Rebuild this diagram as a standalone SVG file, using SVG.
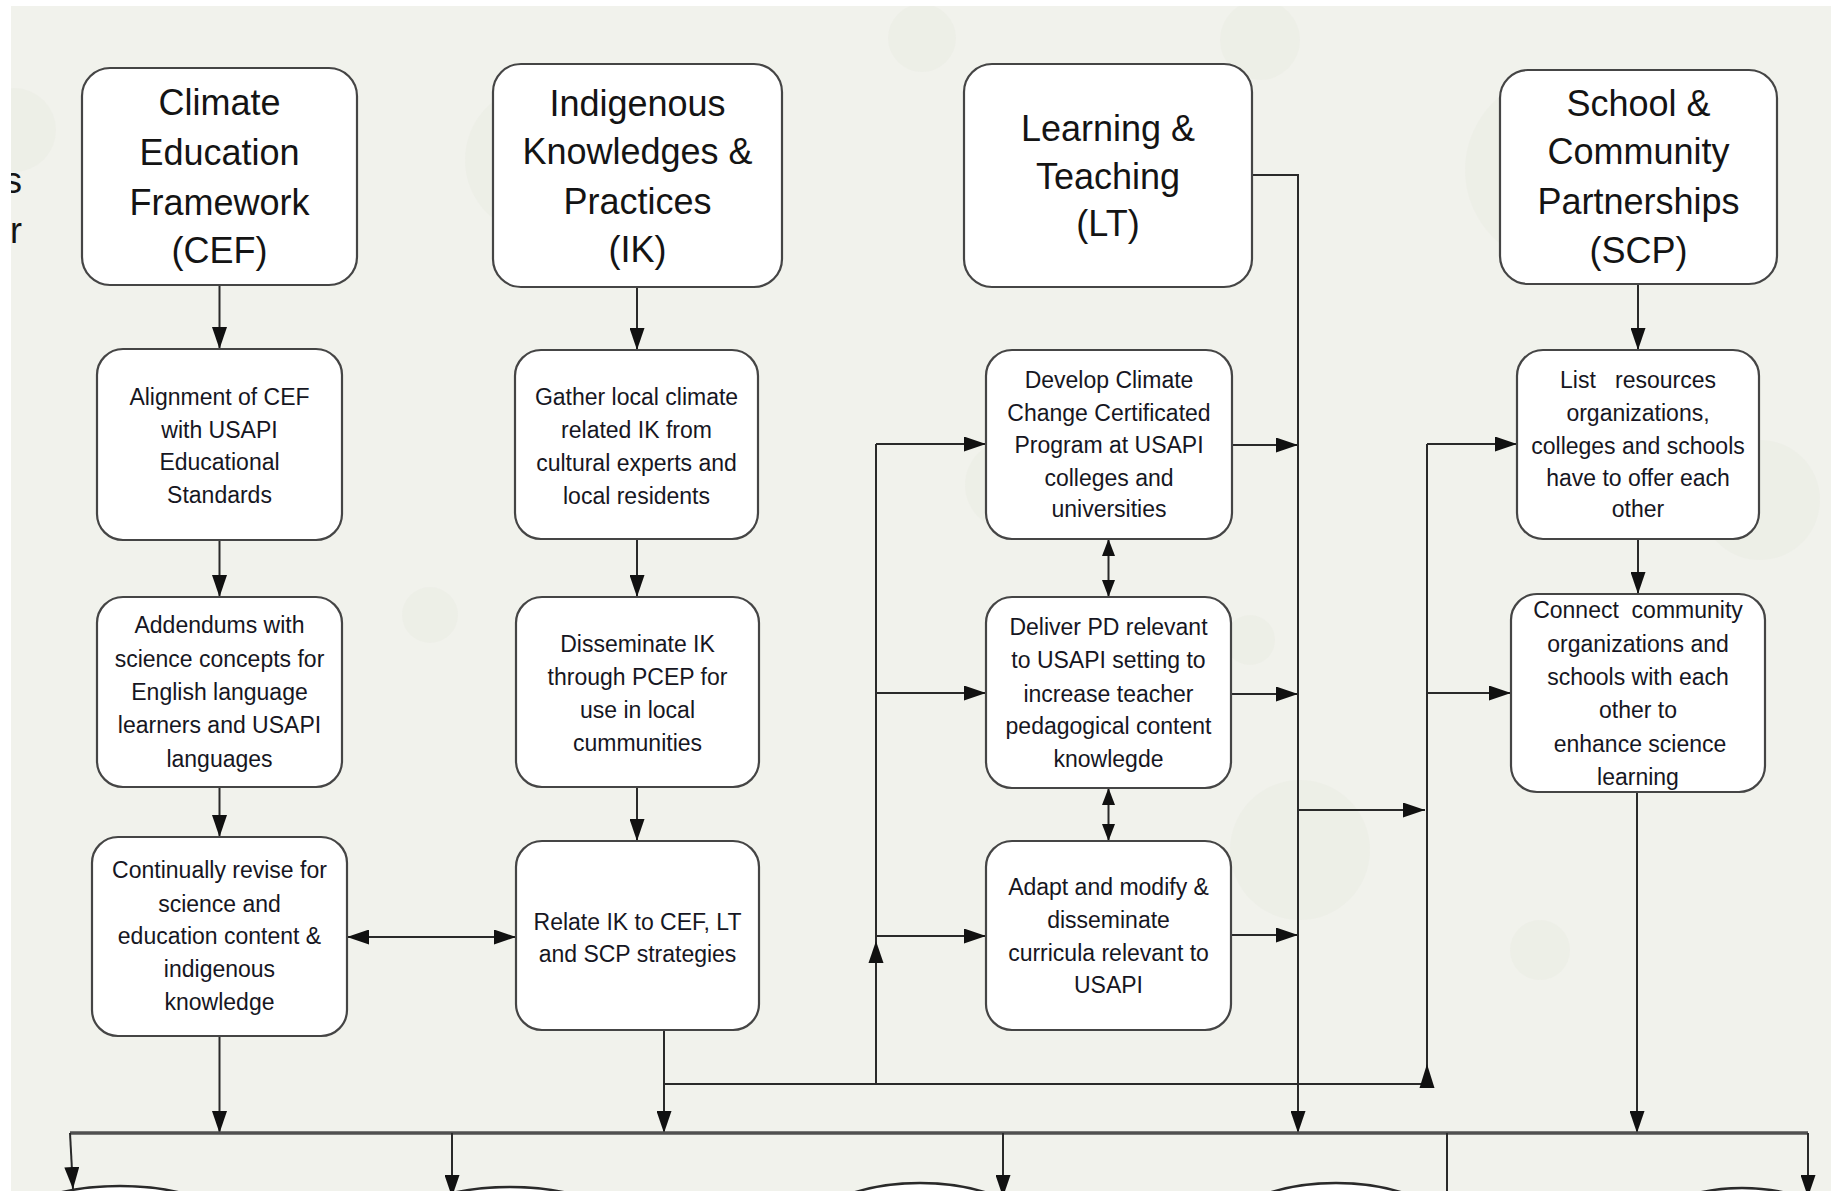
<svg xmlns="http://www.w3.org/2000/svg" width="1831" height="1191" viewBox="0 0 1831 1191">
<defs>
<style>
.bg{fill:#f1f2ec}
.bub{fill:#e9ebe3;opacity:.45}
.box{fill:#ffffff;stroke:#454545;stroke-width:2.2}
.hd{font-family:"Liberation Sans",Arial,Helvetica,sans-serif;font-size:36px;fill:#141414;text-anchor:middle}
.bd{font-family:"Liberation Sans",Arial,Helvetica,sans-serif;font-size:23px;fill:#161622;text-anchor:middle}
.ln{fill:none;stroke:#2a2a2a;stroke-width:2}
.bus{fill:none;stroke:#505050;stroke-width:3.5}
.ah{fill:#111}
.ell{fill:#ffffff;stroke:#2a2a2a;stroke-width:2.5}
</style>
<marker id="arr" viewBox="0 0 22 15" refX="22" refY="7.5" markerWidth="22" markerHeight="15" markerUnits="userSpaceOnUse" orient="auto-start-reverse"><path d="M0,0 L22,7.5 L0,15 z" fill="#111"/></marker>
<marker id="arrs" viewBox="0 0 17 13" refX="17" refY="6.5" markerWidth="17" markerHeight="13" markerUnits="userSpaceOnUse" orient="auto-start-reverse"><path d="M0,0 L17,6.5 L0,13 z" fill="#111"/></marker>
</defs>

<rect x="0" y="0" width="1831" height="1191" fill="#ffffff"/>
<rect class="bg" x="11" y="6" width="1820" height="1185"/>

<g id="bubbles">
<circle class="bub" cx="14" cy="130" r="42"/>
<circle class="bub" cx="540" cy="160" r="75"/>
<circle class="bub" cx="922" cy="38" r="34"/>
<circle class="bub" cx="1260" cy="40" r="40"/>
<circle class="bub" cx="1560" cy="170" r="95"/>
<circle class="bub" cx="1760" cy="500" r="60"/>
<circle class="bub" cx="430" cy="615" r="28"/>
<circle class="bub" cx="1300" cy="850" r="70"/>
<circle class="bub" cx="1540" cy="950" r="30"/>
<circle class="bub" cx="1250" cy="640" r="25"/>
<circle class="bub" cx="1010" cy="485" r="45"/>
</g>

<g id="edge-text">
<text class="hd" x="22" y="193" style="text-anchor:end">s</text>
<text class="hd" x="22" y="243" style="text-anchor:end">r</text>
</g>
<rect x="0" y="0" width="11" height="1191" fill="#ffffff"/>
<rect x="0" y="0" width="1831" height="6" fill="#ffffff"/>

<g id="connectors">
<path class="ln" d="M219.5,285 V349" marker-end="url(#arr)"/>
<path class="ln" d="M219.5,540 V597" marker-end="url(#arr)"/>
<path class="ln" d="M219.5,787 V837" marker-end="url(#arr)"/>
<path class="ln" d="M219.5,1036 V1133" marker-end="url(#arr)"/>
<path class="ln" d="M347,937 H516" marker-start="url(#arr)" marker-end="url(#arr)"/>
<path class="ln" d="M637,287 V350" marker-end="url(#arr)"/>
<path class="ln" d="M637,539 V597" marker-end="url(#arr)"/>
<path class="ln" d="M637,787 V841" marker-end="url(#arr)"/>
<path class="ln" d="M664,1030 V1133" marker-end="url(#arr)"/>
<path class="ln" d="M664,1084 H1427 V444"/>
<polygon class="ah" points="1427,1064 1419.5,1088 1434.5,1088"/>
<path class="ln" d="M876,1084 V444"/>
<polygon class="ah" points="876,941 868.5,963 883.5,963"/>
<path class="ln" d="M876,444 H986" marker-end="url(#arr)"/>
<path class="ln" d="M876,693 H986" marker-end="url(#arr)"/>
<path class="ln" d="M876,936 H986" marker-end="url(#arr)"/>
<path class="ln" d="M1108.5,539 V597" marker-start="url(#arrs)" marker-end="url(#arrs)"/>
<path class="ln" d="M1108.5,788 V841" marker-start="url(#arrs)" marker-end="url(#arrs)"/>
<path class="ln" d="M1232,445 H1298" marker-end="url(#arr)"/>
<path class="ln" d="M1231,694 H1298" marker-end="url(#arr)"/>
<path class="ln" d="M1231,935 H1298" marker-end="url(#arr)"/>
<path class="ln" d="M1252,175 H1298 V1133" marker-end="url(#arr)"/>
<path class="ln" d="M1298,810 H1425" marker-end="url(#arr)"/>
<path class="ln" d="M1427,444 H1517" marker-end="url(#arr)"/>
<path class="ln" d="M1427,693 H1511" marker-end="url(#arr)"/>
<path class="ln" d="M1638,284 V350" marker-end="url(#arr)"/>
<path class="ln" d="M1638,539 V594" marker-end="url(#arr)"/>
<path class="ln" d="M1637,792 V1133" marker-end="url(#arr)"/>
<path class="bus" d="M70,1133 H1808"/>
<path class="ln" d="M70,1133 L73,1189" marker-end="url(#arr)"/>
<path class="ln" d="M452,1133 V1197" marker-end="url(#arr)"/>
<path class="ln" d="M1003,1133 V1197" marker-end="url(#arr)"/>
<path class="ln" d="M1447,1133 V1191"/>
<path class="ln" d="M1808,1133 V1197" marker-end="url(#arr)"/>
</g>

<g id="bottom-shapes">
<ellipse class="ell" cx="120" cy="1246" rx="130" ry="60"/>
<ellipse class="ell" cx="510" cy="1247" rx="130" ry="60"/>
<ellipse class="ell" cx="920" cy="1253" rx="130" ry="70"/>
<ellipse class="ell" cx="1336" cy="1253" rx="130" ry="70"/>
<ellipse class="ell" cx="1742" cy="1250" rx="110" ry="62"/>
</g>

<g id="node-cef">
<rect class="box" x="82" y="68" width="275" height="217" rx="28"/>
<text class="hd"><tspan x="219.5" y="115">Climate</tspan><tspan x="219.5" y="165">Education</tspan><tspan x="219.5" y="215">Framework</tspan><tspan x="219.5" y="263">(CEF)</tspan></text>
</g>
<g id="node-cef-align">
<rect class="box" x="97" y="349" width="245" height="191" rx="26"/>
<text class="bd"><tspan x="219.5" y="405">Alignment of CEF</tspan><tspan x="219.5" y="438">with USAPI</tspan><tspan x="219.5" y="470">Educational</tspan><tspan x="219.5" y="503">Standards</tspan></text>
</g>
<g id="node-cef-addendums">
<rect class="box" x="97" y="597" width="245" height="190" rx="26"/>
<text class="bd"><tspan x="219.5" y="633">Addendums with</tspan><tspan x="219.5" y="667">science concepts for</tspan><tspan x="219.5" y="700">English language</tspan><tspan x="219.5" y="733">learners and USAPI</tspan><tspan x="219.5" y="767">languages</tspan></text>
</g>
<g id="node-cef-revise">
<rect class="box" x="92" y="837" width="255" height="199" rx="26"/>
<text class="bd"><tspan x="219.5" y="878">Continually revise for</tspan><tspan x="219.5" y="912">science and</tspan><tspan x="219.5" y="944">education content &amp;</tspan><tspan x="219.5" y="977">indigenous</tspan><tspan x="219.5" y="1010">knowledge</tspan></text>
</g>

<g id="node-ik">
<rect class="box" x="493" y="64" width="289" height="223" rx="28"/>
<text class="hd"><tspan x="637.5" y="116">Indigenous</tspan><tspan x="637.5" y="164">Knowledges &amp;</tspan><tspan x="637.5" y="214">Practices</tspan><tspan x="637.5" y="262">(IK)</tspan></text>
</g>
<g id="node-ik-gather">
<rect class="box" x="515" y="350" width="243" height="189" rx="26"/>
<text class="bd"><tspan x="636.5" y="405">Gather local climate</tspan><tspan x="636.5" y="438">related IK from</tspan><tspan x="636.5" y="471">cultural experts and</tspan><tspan x="636.5" y="504">local residents</tspan></text>
</g>
<g id="node-ik-disseminate">
<rect class="box" x="516" y="597" width="243" height="190" rx="26"/>
<text class="bd"><tspan x="637.5" y="652">Disseminate IK</tspan><tspan x="637.5" y="685">through PCEP for</tspan><tspan x="637.5" y="718">use in local</tspan><tspan x="637.5" y="751">cummunities</tspan></text>
</g>
<g id="node-ik-relate">
<rect class="box" x="516" y="841" width="243" height="189" rx="26"/>
<text class="bd"><tspan x="637.5" y="930">Relate IK to CEF, LT</tspan><tspan x="637.5" y="962">and SCP strategies</tspan></text>
</g>

<g id="node-lt">
<rect class="box" x="964" y="64" width="288" height="223" rx="28"/>
<text class="hd"><tspan x="1108" y="141">Learning &amp;</tspan><tspan x="1108" y="189">Teaching</tspan><tspan x="1108" y="236">(LT)</tspan></text>
</g>
<g id="node-lt-develop">
<rect class="box" x="986" y="350" width="246" height="189" rx="26"/>
<text class="bd"><tspan x="1109" y="388">Develop Climate</tspan><tspan x="1109" y="421">Change Certificated</tspan><tspan x="1109" y="453">Program at USAPI</tspan><tspan x="1109" y="486">colleges and</tspan><tspan x="1109" y="517">universities</tspan></text>
</g>
<g id="node-lt-deliver">
<rect class="box" x="986" y="597" width="245" height="191" rx="26"/>
<text class="bd"><tspan x="1108.5" y="635">Deliver PD relevant</tspan><tspan x="1108.5" y="668">to USAPI setting to</tspan><tspan x="1108.5" y="702">increase teacher</tspan><tspan x="1108.5" y="734">pedagogical content</tspan><tspan x="1108.5" y="767">knowlegde</tspan></text>
</g>
<g id="node-lt-adapt">
<rect class="box" x="986" y="841" width="245" height="189" rx="26"/>
<text class="bd"><tspan x="1108.5" y="895">Adapt and modify &amp;</tspan><tspan x="1108.5" y="928">disseminate</tspan><tspan x="1108.5" y="961">curricula relevant to</tspan><tspan x="1108.5" y="993">USAPI</tspan></text>
</g>

<g id="node-scp">
<rect class="box" x="1500" y="70" width="277" height="214" rx="28"/>
<text class="hd"><tspan x="1638.5" y="116">School &amp;</tspan><tspan x="1638.5" y="164">Community</tspan><tspan x="1638.5" y="214">Partnerships</tspan><tspan x="1638.5" y="263">(SCP)</tspan></text>
</g>
<g id="node-scp-list">
<rect class="box" x="1517" y="350" width="242" height="189" rx="26"/>
<text class="bd" xml:space="preserve"><tspan x="1638" y="388">List   resources</tspan><tspan x="1638" y="421">organizations,</tspan><tspan x="1638" y="454">colleges and schools</tspan><tspan x="1638" y="486">have to offer each</tspan><tspan x="1638" y="517">other</tspan></text>
</g>
<g id="node-scp-connect">
<rect class="box" x="1511" y="594" width="254" height="198" rx="26"/>
<text class="bd" xml:space="preserve"><tspan x="1638" y="618">Connect  community</tspan><tspan x="1638" y="652">organizations and</tspan><tspan x="1638" y="685">schools with each</tspan><tspan x="1638" y="718">other to</tspan><tspan x="1640" y="752">enhance science</tspan><tspan x="1638" y="785">learning</tspan></text>
</g>
</svg>
